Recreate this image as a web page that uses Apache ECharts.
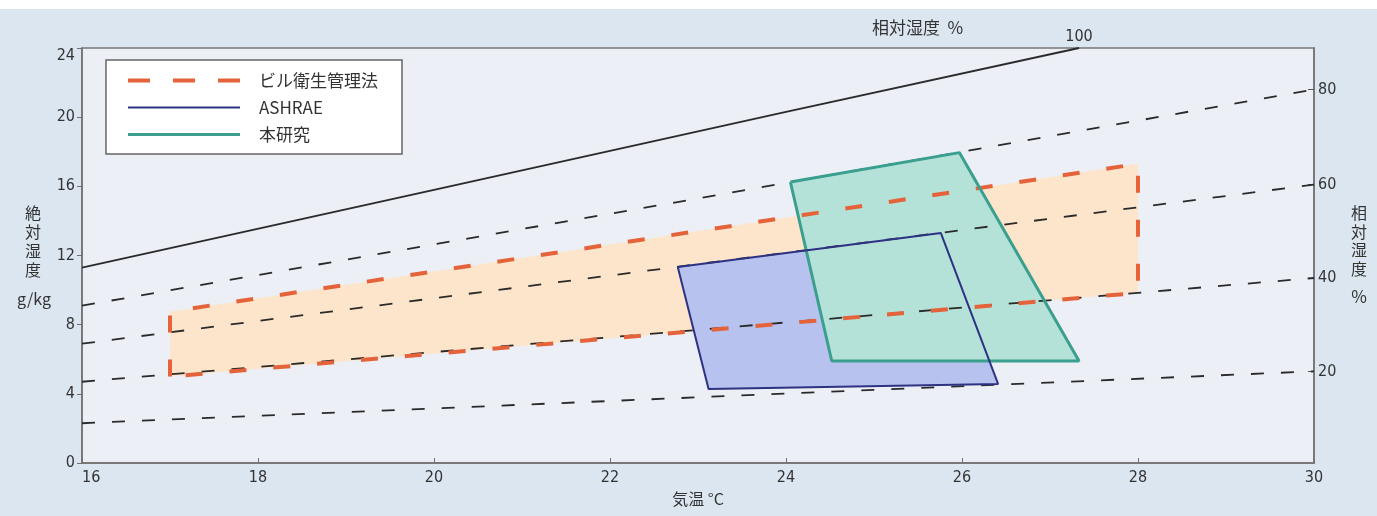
<!DOCTYPE html>
<html><head><meta charset="utf-8">
<script src="https://cdn.jsdelivr.net/npm/echarts@6/dist/echarts.min.js"></script>
<style>html,body{margin:0;padding:0;background:#dce6f0;}#c{width:1377px;height:516px;}</style>
</head><body><div id="c"></div>
<script>
// ---- data ----
const xTicks = [16, 18, 20, 22, 24, 26, 28, 30];
const yTicks = [0, 4, 8, 12, 16, 20, 24];
// relative-humidity lines (air temperature °C -> absolute humidity g/kg)
const rhTemps = [16, 23, 30];
const rh80 = [9.1, 15.3, 21.6];
const rh60 = [6.9, 11.5, 16.1];
const rh40 = [4.7, 7.7, 10.7];
const rh20 = [2.3, 3.8, 5.3];
const rhLabels = ['80', '60', '40', '20'];
const satTemps = [16, 20, 24, 27.33];
const sat100 = [11.3, 15.8, 20.3, 24];
const satLabel = '100';
// comfort zones (polygon vertices)
const bldgTemps = [17, 17, 28, 28];
const bldgHum = [5.0, 8.75, 17.3, 9.84];
const ashraeTemps = [22.77, 23.12, 26.41, 25.76];
const ashraeHum = [11.34, 4.28, 4.57, 13.3];
const studyTemps = [24.05, 24.52, 27.33, 25.97];
const studyHum = [16.25, 5.9, 5.9, 17.95];
const seriesNames = ['ビル衛生管理法', 'ASHRAE', '本研究'];

// ---- build ----
const zip = (a, b) => a.map((v, i) => [v, b[i]]);
const closed = (a, b) => { const p = zip(a, b); p.push(p[0]); return p; };
const rhSets = [rh80, rh60, rh40, rh20];
const rhEnds = rhSets.map(s => s[s.length - 1]);
const satEnd = satTemps[satTemps.length - 1];

const numFont = "'Liberation Sans Narrow','DejaVu Sans Condensed','Noto Sans',sans-serif";
const jpFont = "'Noto Sans CJK JP','Noto Sans',sans-serif";

function fillSeries(pts, color, z) {
  return {
    type: 'custom', z: z, silent: true, clip: true,
    data: pts,
    renderItem: function (params, api) {
      if (params.dataIndex !== 0) return null;
      return {
        type: 'polygon',
        shape: { points: pts.map(p => api.coord(p)) },
        style: { fill: color }
      };
    }
  };
}

const rhSeries = rhSets.map(s => ({
  type: 'line', z: 4, silent: true, symbol: 'none',
  data: zip(rhTemps, s),
  lineStyle: { color: '#2a2a2a', width: 1.8, type: [13, 17] }
}));

const option = {
  backgroundColor: '#dce6f0',
  animation: false,
  textStyle: { fontFamily: jpFont },
  grid: { left: 82, right: 63, top: 48, bottom: 53, show: true,
    backgroundColor: '#eceff6', borderColor: '#777', borderWidth: 1.5 },
  graphic: [
    { type: 'rect', left: 0, top: 0, shape: { width: 1377, height: 9 }, style: { fill: '#ffffff' }, z: -1 },
    { type: 'text', left: 872, top: 19, style: { text: '相対湿度  %', font: '17px ' + jpFont, fill: '#333' } },
    { type: 'text', x: 33, y: 203, style: { text: '絶\n対\n湿\n度', font: '16px ' + jpFont, fill: '#333', align: 'center', verticalAlign: 'top', lineHeight: 19 } },
    { type: 'text', x: 34, y: 299, style: { text: 'g/kg', font: '16px ' + jpFont, fill: '#333', align: 'center', verticalAlign: 'middle' } },
    { type: 'text', x: 1359, y: 204, style: { text: '相\n対\n湿\n度', font: '16px ' + jpFont, fill: '#333', align: 'center', verticalAlign: 'top', lineHeight: 18.5 } },
    { type: 'text', x: 1359, y: 297, style: { text: '%', font: '17px ' + jpFont, fill: '#333', align: 'center', verticalAlign: 'middle' } }
  ],
  legend: {
    orient: 'vertical', left: 106, top: 60,
    padding: [12, 24, 11, 20], itemGap: 10, itemWidth: 112, itemHeight: 14,
    backgroundColor: '#ffffff', borderColor: '#666', borderWidth: 1.5, borderRadius: 0,
    textStyle: { fontFamily: jpFont, fontSize: 17, color: '#333', padding: [0, 0, 0, 14] },
    data: [
      { name: seriesNames[0], itemStyle: { opacity: 0 }, lineStyle: { color: '#e4633a', width: 4, type: [22, 23] } },
      { name: seriesNames[1], itemStyle: { opacity: 0 }, lineStyle: { color: '#2d3282', width: 2 } },
      { name: seriesNames[2], itemStyle: { opacity: 0 }, lineStyle: { color: '#3a9f8f', width: 3 } }
    ]
  },
  xAxis: [
    { type: 'value', position: 'bottom', min: 16, max: 30, interval: 2,
      axisLine: { lineStyle: { color: '#707070', width: 1.5 } },
      axisTick: { inside: true, length: 5, lineStyle: { color: '#707070' } },
      axisLabel: { color: '#333', fontSize: 16, fontFamily: numFont, margin: 7, alignMinLabel: 'left',
        customValues: xTicks },
      splitLine: { show: false },
      name: '気温 °C', nameLocation: 'middle', nameGap: 26,
      nameTextStyle: { fontFamily: jpFont, fontSize: 16, color: '#333' } },
    { type: 'value', position: 'top', min: 16, max: 30,
      axisLine: { show: false }, axisTick: { show: false }, splitLine: { show: false },
      axisLabel: { color: '#333', fontSize: 16, fontFamily: numFont, margin: 3,
        customValues: [satEnd], formatter: () => satLabel } }
  ],
  yAxis: [
    { type: 'value', position: 'left', min: 0, max: 24, interval: 4,
      axisLine: { show: true, lineStyle: { color: '#707070', width: 1.5 } },
      axisTick: { show: true, inside: false, length: 5, lineStyle: { color: '#707070' } },
      axisLabel: { color: '#333', fontSize: 16, fontFamily: numFont, margin: 7,
        customValues: yTicks, verticalAlignMaxLabel: 'top' },
      splitLine: { show: false } },
    { type: 'value', position: 'right', min: 0, max: 24,
      axisLine: { show: true, lineStyle: { color: '#707070', width: 1.5 } },
      axisTick: { show: true, inside: true, length: 6, customValues: rhEnds, lineStyle: { color: '#555' } },
      axisLabel: { color: '#333', fontSize: 16, fontFamily: numFont, margin: 4, customValues: rhEnds,
        formatter: v => { let bi = 0; rhEnds.forEach((e, i) => { if (Math.abs(e - v) < Math.abs(rhEnds[bi] - v)) bi = i; }); return rhLabels[bi]; } },
      splitLine: { show: false } }
  ],
  series: [
    fillSeries(zip(bldgTemps, bldgHum), '#fde5cb', 1),
    fillSeries(zip(ashraeTemps, ashraeHum), '#b8c2ee', 2),
    fillSeries(zip(studyTemps, studyHum), '#b4e2d8', 3),
    ...rhSeries,
    { type: 'line', z: 4, silent: true, symbol: 'none', data: zip(satTemps, sat100),
      lineStyle: { color: '#2a2a2a', width: 1.8 } },
    { name: seriesNames[0], type: 'line', z: 5, symbol: 'none', silent: true,
      data: closed(bldgTemps, bldgHum),
      lineStyle: { color: '#e4633a', width: 4, type: [17, 27] }, itemStyle: { color: '#e4633a' } },
    { name: seriesNames[2], type: 'line', z: 6, symbol: 'none', silent: true,
      data: closed(studyTemps, studyHum),
      lineStyle: { color: '#3a9f8f', width: 3 }, itemStyle: { color: '#3a9f8f' } },
    { name: seriesNames[1], type: 'line', z: 7, symbol: 'none', silent: true,
      data: closed(ashraeTemps, ashraeHum),
      lineStyle: { color: '#2d3282', width: 2 }, itemStyle: { color: '#2d3282' } }
  ]
};
echarts.init(document.getElementById('c'), null, { renderer: 'canvas' }).setOption(option);
</script></body></html>
